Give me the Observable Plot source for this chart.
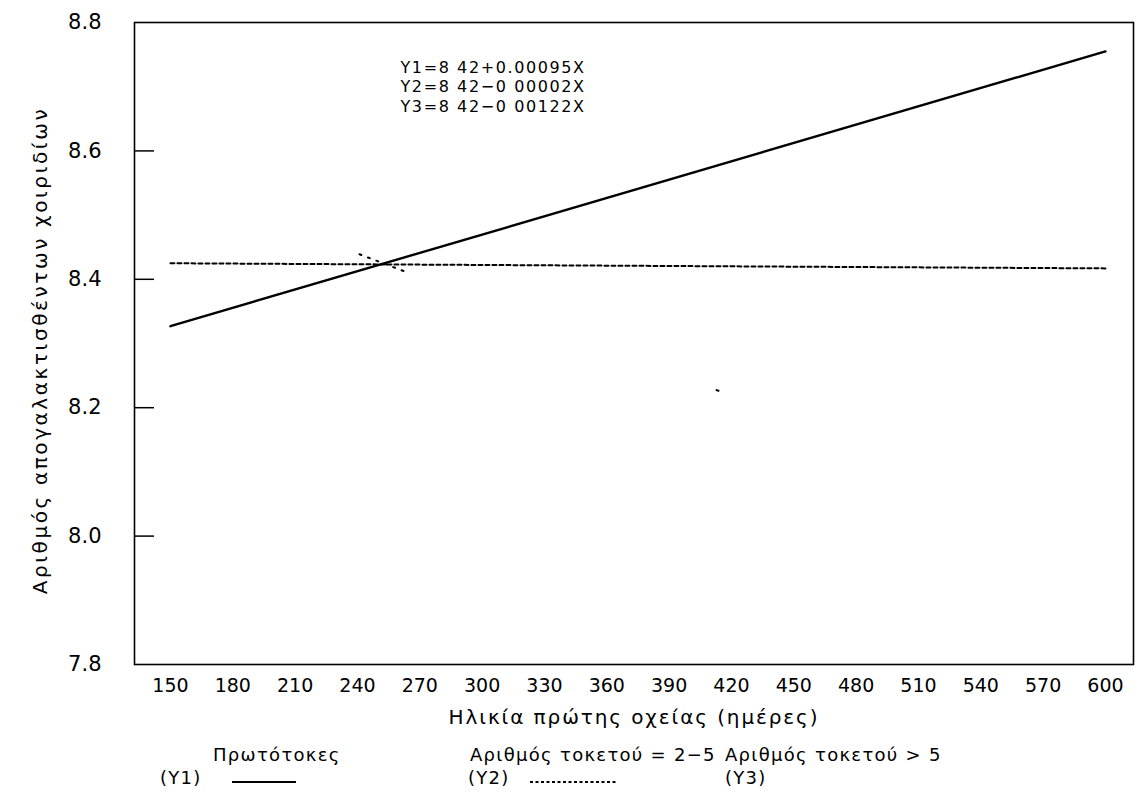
<!DOCTYPE html>
<html>
<head>
<meta charset="utf-8">
<script src="https://cdn.jsdelivr.net/npm/d3@7"></script>
<script src="https://cdn.jsdelivr.net/npm/@observablehq/plot@0.6"></script>
<style>
  body { margin: 0; background: #fff; font-family: "DejaVu Sans", sans-serif; }
  #wrap { position: relative; width: 1146px; height: 797px; }
  #legend { position: absolute; left: 0; top: 738px; width: 1146px; height: 59px; font-size: 18px; letter-spacing: 1.3px; color: #000; }
  #legend span { position: absolute; white-space: nowrap; }
  #legend svg { position: absolute; }
</style>
</head>
<body>
<div id="wrap">
  <div id="chart"></div>
  <div id="legend"></div>
</div>
<script>
// ---- data ----
const xEnds = [150, 600];                 // age at first mating (days)
const y1Values = [8.327, 8.755];          // Y1 Πρωτότοκες
const y2Values = [8.425, 8.417];          // Y2 Αριθμός τοκετού = 2-5
const y3X = [241, 414];                   // visible part of Y3
const y3Values = [8.439, 8.226];          // Y3 Αριθμός τοκετού > 5
const xTicks = [150,180,210,240,270,300,330,360,390,420,450,480,510,540,570,600];
const yTicks = [7.8, 8.0, 8.2, 8.4, 8.6, 8.8];
const equations = ["Y1=8 42+0.00095X", "Y2=8 42−0 00002X", "Y3=8 42−0 00122X"];
const seriesNames = ["Πρωτότοκες", "Αριθμός τοκετού = 2−5", "Αριθμός τοκετού > 5"];
const seriesCodes = ["(Y1)", "(Y2)", "(Y3)"];
const xLabel = "Ηλικία πρώτης οχείας (ημέρες)";
const yLabel = "Αριθμός απογαλακτισθέντων χοιριδίων";

const s1 = xEnds.map((x, i) => ({x, y: y1Values[i]}));
const s2 = xEnds.map((x, i) => ({x, y: y2Values[i]}));
const s3 = y3X.map((x, i) => ({x, y: y3Values[i]}));

const chart = Plot.plot({
  width: 1146,
  height: 738,
  marginLeft: 134,
  marginRight: 13,
  marginTop: 22,
  marginBottom: 74,
  style: {fontFamily: "DejaVu Sans, sans-serif", fontSize: "18px", color: "#000", background: "#fff"},
  x: {domain: [132.7, 613.5]},
  y: {domain: [7.8, 8.8]},
  marks: [
    Plot.axisX({ticks: xTicks, tickSize: 0, tickPadding: 14, fontSize: 19,
      label: null}),
    Plot.text([xLabel], {text: d => d, frameAnchor: "bottom", dy: 53, fontSize: 20,
      lineAnchor: "middle", textAnchor: "middle"}),
    Plot.axisY({ticks: yTicks, tickSize: 0, tickPadding: 33, fontSize: 21,
      tickFormat: d3.format(".1f"), label: null}),
    Plot.text([yLabel], {text: d => d, frameAnchor: "left", dx: -94, dy: 7, rotate: -90, fontSize: 20,
      lineAnchor: "middle", textAnchor: "middle"}),
    Plot.axisY({ticks: yTicks.slice(1, -1), tickSize: -20, text: null, label: null, strokeWidth: 1.5}),
    Plot.frame({stroke: "#000", strokeWidth: 1.6}),
    Plot.line(s1, {x: "x", y: "y", stroke: "#000", strokeWidth: 2.4}),
    Plot.line(s2, {x: "x", y: "y", stroke: "#000", strokeWidth: 2, strokeDasharray: "4,3"}),
    Plot.line(s3, {x: "x", y: "y", stroke: "#000", strokeWidth: 2,
      strokeDasharray: "2,7,2,7,2,7,2,7,2,7,2,335"}),
    Plot.text([equations.join("\n")], {text: d => d, frameAnchor: "top-left", dx: 266, dy: 37,
      fontSize: 16, lineHeight: 1.2, textAnchor: "start", lineAnchor: "top"})
  ]
});
document.getElementById("chart").appendChild(chart);

// letter spacing to mimic the wide plotter font
const spacing = new Map([[xLabel, "1.9px"], [yLabel, "2.6px"]]);
chart.querySelectorAll("text").forEach(t => {
  const s = t.textContent;
  if (spacing.has(s)) t.style.letterSpacing = spacing.get(s);
  else if (equations.some(e => s.includes(e))) t.style.letterSpacing = "1.6px";
});

// ---- legend below the chart ----
const legend = document.getElementById("legend");
const namePos = [213, 470, 725];
const codePos = [160, 468, 725];
seriesNames.forEach((n, i) => {
  const s = document.createElement("span");
  s.textContent = n;
  s.style.left = namePos[i] + "px";
  s.style.top = "6px";
  legend.appendChild(s);
  const c = document.createElement("span");
  c.textContent = seriesCodes[i];
  c.style.left = codePos[i] + "px";
  c.style.top = "29px";
  legend.appendChild(c);
});
const ns = "http://www.w3.org/2000/svg";
function sample(left, dash) {
  const svg = document.createElementNS(ns, "svg");
  svg.setAttribute("width", 90); svg.setAttribute("height", 6);
  svg.style.left = left + "px"; svg.style.top = "41px";
  const l = document.createElementNS(ns, "line");
  l.setAttribute("x1", 0); l.setAttribute("x2", dash ? 86 : 64);
  l.setAttribute("y1", 3); l.setAttribute("y2", 3);
  l.setAttribute("stroke", "#000"); l.setAttribute("stroke-width", 2);
  if (dash) l.setAttribute("stroke-dasharray", "3,2.5");
  svg.appendChild(l);
  legend.appendChild(svg);
}
sample(232, false);
sample(530, true);
</script>
</body>
</html>
